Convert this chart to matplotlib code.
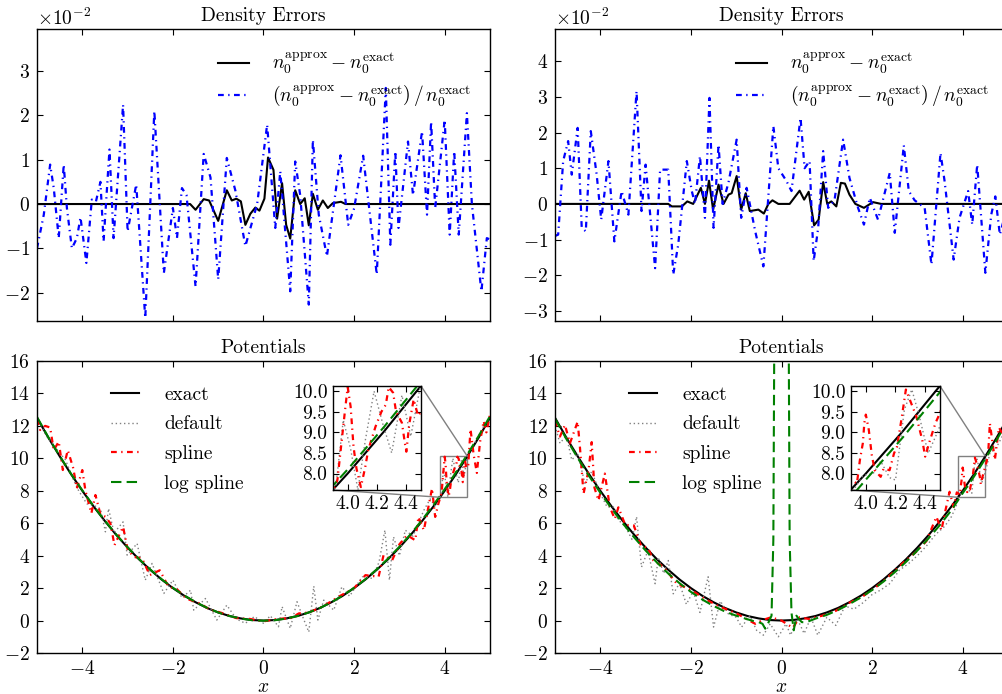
import numpy as np
import matplotlib.pyplot as plt
from matplotlib.ticker import MultipleLocator, FormatStrFormatter
from mpl_toolkits.axes_grid1.inset_locator import mark_inset

plt.rcParams['font.family'] = 'serif'
plt.rcParams['font.serif'] = ['cmr10']
plt.rcParams['mathtext.fontset'] = 'cm'
plt.rcParams['axes.formatter.use_mathtext'] = True
plt.rcParams['font.size'] = 14
plt.rcParams['xtick.direction'] = 'in'
plt.rcParams['ytick.direction'] = 'in'
plt.rcParams['xtick.top'] = True
plt.rcParams['ytick.right'] = True
plt.rcParams['xtick.major.size'] = 4.5
plt.rcParams['ytick.major.size'] = 4.5
plt.rcParams['axes.linewidth'] = 1.0
plt.rcParams['xtick.major.pad'] = 5
plt.rcParams['ytick.major.pad'] = 5

# density errors, values in units of 1e-2, (x, value) pairs
abs_err_l = [(-5.0, 0), (-1.62, 0), (-1.5, -0.13), (-1.32, 0.11), (-1.2, 0.08), (-1.0, -0.38),
             (-0.81, 0.31), (-0.7, 0.08), (-0.6, 0.12), (-0.5, 0.06), (-0.4, -0.47), (-0.29, -0.22),
             (-0.18, -0.08), (-0.09, -0.15), (0.02, 0.12), (0.10, 1.05), (0.22, 0.77), (0.30, -0.33),
             (0.41, 0.47), (0.50, -0.47), (0.59, -0.78), (0.70, 0.31), (0.81, 0.0), (0.91, 0.13),
             (1.0, -0.48), (1.09, 0.23), (1.2, -0.13), (1.31, 0.08), (1.42, -0.09), (1.53, 0.02),
             (1.71, 0.05), (1.81, 0.0), (5.0, 0)]
rel_err_l = [(-5.0, -1.0), (-4.85, -0.24), (-4.71, 0.89), (-4.63, 0.36), (-4.52, -0.77), (-4.41, 0.89),
             (-4.34, -0.09), (-4.23, -1.0), (-4.12, -0.77), (-4.04, -0.3), (-3.91, -1.33), (-3.79, 0.1),
             (-3.7, 0.05), (-3.6, 0.5), (-3.53, -0.84), (-3.4, 1.23), (-3.31, -0.77), (-3.1, 2.24),
             (-3.0, -0.62), (-2.81, 0.44), (-2.61, -2.57), (-2.41, 2.10), (-2.2, -1.56), (-2.0, -0.09),
             (-1.91, -0.77), (-1.8, 0.36), (-1.7, 0.2), (-1.5, -1.86), (-1.32, 1.13), (-1.17, 0.6),
             (-1.0, -1.7), (-0.81, 1.04), (-0.62, 0.3), (-0.40, -0.95), (-0.14, 0.0), (0.08, 1.79),
             (0.26, -0.54), (0.37, 0.74), (0.59, -1.97), (0.70, 0.96), (0.81, 0.2), (1.0, -2.27),
             (1.09, 1.45), (1.22, -0.24), (1.40, -1.18), (1.70, 1.1), (1.87, -0.47), (2.0, -0.1),
             (2.2, 1.09), (2.5, -1.59), (2.70, 2.62), (2.8, -0.92), (2.91, 1.19), (2.98, -0.54),
             (3.19, 1.41), (3.3, 0.2), (3.50, 1.64), (3.61, -0.24), (3.70, 1.86), (3.79, -0.09),
             (4.0, 1.90), (4.11, -0.69), (4.21, 1.19), (4.31, -0.69), (4.49, 2.05), (4.6, 0.0),
             (4.81, -1.97), (4.93, -0.77), (5.0, -0.8)]
abs_err_r = [(-5.0, 0), (-2.5, 0), (-2.42, -0.07), (-2.2, -0.07), (-2.08, 0.07), (-1.95, 0.0),
             (-1.78, 0.45), (-1.69, 0.0), (-1.6, 0.65), (-1.51, -0.16), (-1.39, 0.54), (-1.28, 0.0),
             (-1.17, 0.26), (-1.1, 0.3), (-0.99, 0.78), (-0.89, -0.16), (-0.79, 0.3), (-0.7, -0.2),
             (-0.51, -0.16), (-0.39, -0.27), (-0.29, 0.0), (-0.2, 0.1), (-0.07, 0.0), (0.18, 0.0),
             (0.4, 0.37), (0.5, 0.12), (0.6, 0.34), (0.72, -0.6), (0.82, -0.44), (0.92, 0.61),
             (1.01, 0.0), (1.1, 0.07), (1.21, -0.07), (1.31, 0.59), (1.4, 0.57), (1.5, 0.26),
             (1.63, 0.0), (1.82, -0.11), (2.02, 0.05), (2.2, 0.0), (5.0, 0)]
rel_err_r = [(-5.0, -0.9), (-4.93, -0.86), (-4.82, 1.2), (-4.71, 1.76), (-4.63, 0.82), (-4.5, 2.13),
             (-4.41, -0.67), (-4.32, -0.77), (-4.21, 2.04), (-4.08, 0.82), (-3.98, -0.44), (-3.82, 1.2),
             (-3.69, -1.05), (-3.53, 0.36), (-3.38, -0.3), (-3.2, 3.16), (-3.09, -0.2), (-3.0, 1.1),
             (-2.79, -1.8), (-2.68, 0.96), (-2.5, 0.96), (-2.39, -1.98), (-2.28, -1.14), (-2.09, 1.2),
             (-1.98, 0.36), (-1.91, 0.0), (-1.8, 1.34), (-1.69, -0.39), (-1.59, 2.97), (-1.5, -0.67),
             (-1.39, 1.66), (-1.30, 0.0), (-1.17, 0.6), (-0.99, 1.8), (-0.89, -0.39), (-0.77, 0.45),
             (-0.58, -0.77), (-0.40, -1.75), (-0.18, 2.18), (-0.07, 1.0), (0.11, 0.64), (0.22, 0.36),
             (0.42, 2.41), (0.51, 1.0), (0.62, 1.2), (0.71, -1.6), (0.81, -0.67), (0.92, 1.48),
             (1.03, -0.11), (1.17, 0.1), (1.36, 1.8), (1.5, 0.73), (1.69, -0.11), (1.82, -0.58),
             (1.95, 0.17), (2.13, -0.44), (2.39, 0.87), (2.5, -0.81), (2.7, 1.64), (2.81, 0.36),
             (2.94, 0.1), (3.16, -0.11), (3.31, -1.7), (3.51, 1.43), (3.6, 0.64), (3.8, -1.56),
             (3.93, -0.39), (4.12, 0.36), (4.21, -0.58), (4.32, 1.1), (4.5, -1.93), (4.63, -0.3),
             (4.72, 0.21), (4.82, -0.86), (5.0, 0.0)]

# potentials
exact_x = [-5.0, -4.75, -4.5, -4.25, -4.0, -3.75, -3.5, -3.25, -3.0, -2.75, -2.5, -2.25, -2.0, -1.75,
           -1.5, -1.25, -1.0, -0.75, -0.5, -0.25, 0.0, 0.25, 0.5, 0.75, 1.0, 1.25, 1.5, 1.75, 2.0,
           2.25, 2.5, 2.75, 3.0, 3.25, 3.5, 3.75, 4.0, 4.25, 4.5, 4.75, 5.0]
exact_y = [12.5, 11.28, 10.13, 9.03, 8.0, 7.03, 6.13, 5.28, 4.5, 3.78, 3.13, 2.53, 2.0, 1.53,
           1.13, 0.78, 0.5, 0.28, 0.13, 0.03, 0.0, 0.03, 0.13, 0.28, 0.5, 0.78, 1.13, 1.53, 2.0,
           2.53, 3.13, 3.78, 4.5, 5.28, 6.13, 7.03, 8.0, 9.03, 10.13, 11.28, 12.5]
log_spline_l_y = [12.55, 11.3, 10.15, 9.05, 8.03, 7.05, 6.15, 5.3, 4.52, 3.8, 3.15, 2.55, 2.02, 1.55,
                  1.14, 0.79, 0.5, 0.28, 0.12, 0.02, -0.01, 0.02, 0.12, 0.28, 0.5, 0.78, 1.13, 1.54,
                  2.02, 2.55, 3.16, 3.82, 4.55, 5.33, 6.2, 7.12, 8.1, 9.14, 10.24, 11.38, 12.6]
spline_l = [(-5.0, 12.4), (-4.93, 11.75), (-4.82, 12.0), (-4.71, 11.9), (-4.63, 10.5), (-4.52, 11.03),
            (-4.43, 9.28), (-4.32, 10.5), (-4.2, 9.39), (-4.12, 8.15), (-4.0, 9.28), (-3.93, 8.0),
            (-3.8, 6.61), (-3.71, 7.74), (-3.6, 6.55), (-3.49, 6.4), (-3.38, 5.99), (-3.29, 4.65),
            (-3.1, 5.78), (-3.0, 4.4), (-2.87, 3.93), (-2.68, 3.83), (-2.51, 2.8), (-2.29, 3.1),
            (-2.1, 2.1), (-1.9, 1.9), (-1.7, 1.35), (-1.4, 1.05), (-1.2, 0.7), (-0.9, 0.45),
            (-0.6, 0.15), (-0.3, 0.1), (0.0, -0.05), (0.3, 0.1), (0.6, 0.15), (0.78, 0.44),
            (1.0, 0.5), (1.3, 0.85), (1.66, 1.47), (2.0, 2.0), (2.25, 2.8), (2.54, 2.7),
            (2.65, 4.03), (2.84, 3.72), (3.0, 4.7), (3.17, 5.26), (3.35, 4.95), (3.42, 6.39),
            (3.54, 5.57), (3.72, 8.14), (3.79, 6.39), (3.86, 7.2), (3.93, 7.84), (3.95, 8.49),
            (3.98, 9.47), (4.0, 10.1), (4.02, 9.63), (4.04, 8.65), (4.06, 8.12), (4.09, 7.67),
            (4.12, 8.16), (4.14, 8.57), (4.19, 9.14), (4.23, 9.5), (4.26, 9.67), (4.28, 10.1),
            (4.31, 9.96), (4.33, 9.5), (4.37, 9.23), (4.39, 8.74), (4.4, 8.53), (4.42, 9.2),
            (4.45, 9.8), (4.48, 9.4), (4.52, 9.6), (4.57, 11.8), (4.64, 10.2), (4.71, 9.1),
            (4.78, 11.0), (4.86, 12.3), (4.92, 11.6), (5.0, 12.7)]
default_l = [(-5.0, 12.5), (-4.8, 11.4), (-4.65, 10.9), (-4.52, 10.4), (-4.37, 9.9), (-4.2, 8.7),
             (-4.08, 8.0), (-3.9, 7.2), (-3.75, 7.1), (-3.6, 6.9), (-3.49, 5.47), (-3.42, 6.9),
             (-3.3, 5.4), (-3.1, 6.08), (-3.01, 4.03), (-2.79, 4.75), (-2.61, 2.49), (-2.46, 3.52),
             (-2.2, 1.67), (-2.0, 2.49), (-1.8, 1.4), (-1.61, 1.87), (-1.54, 0.64), (-1.28, 1.36),
             (-1.03, 0.03), (-0.81, 0.95), (-0.6, 0.1), (-0.4, -0.17), (-0.2, 0.25), (0.0, -0.17),
             (0.15, 0.3), (0.33, -0.38), (0.41, 0.86), (0.59, -0.48), (0.74, 1.16), (0.87, 0.2),
             (1.0, -0.71), (1.11, 2.12), (1.2, 0.03), (1.33, 1.26), (1.55, 0.64), (1.73, 2.08),
             (1.9, 1.5), (2.18, 2.7), (2.4, 2.6), (2.55, 3.6), (2.68, 5.57), (2.78, 2.49),
             (2.87, 5.16), (3.0, 4.0), (3.13, 5.57), (3.3, 5.2), (3.54, 6.8), (3.68, 7.5),
             (3.8, 7.0), (3.92, 7.7), (3.97, 9.3), (4.02, 8.6), (4.07, 7.6), (4.12, 8.8),
             (4.18, 10.0), (4.24, 9.2), (4.3, 8.5), (4.37, 9.9), (4.43, 8.9), (4.5, 10.2),
             (4.6, 10.6), (4.75, 11.4), (4.9, 12.2), (5.0, 12.5)]
spline_r = [(-5.0, 12.3), (-4.89, 11.34), (-4.78, 12.06), (-4.67, 10.93), (-4.5, 12.26), (-4.45, 10.7),
            (-4.37, 7.82), (-4.26, 9.26), (-4.19, 11.0), (-4.13, 8.2), (-4.04, 7.4), (-3.9, 9.06),
            (-3.79, 7.0), (-3.68, 6.26), (-3.6, 6.98), (-3.45, 5.9), (-3.26, 5.86), (-3.1, 4.6),
            (-2.95, 4.5), (-2.83, 3.71), (-2.6, 3.3), (-2.31, 2.27), (-2.0, 1.9), (-1.7, 1.35),
            (-1.4, 0.9), (-1.0, 0.45), (-0.58, -0.2), (-0.4, 0.05), (-0.23, 0.2), (0.0, 0.0),
            (0.25, -0.45), (0.4, 0.2), (0.6, 0.1), (0.9, 0.3), (1.2, 0.6), (1.5, 1.1),
            (1.8, 1.5), (2.1, 2.1), (2.4, 2.8), (2.7, 3.6), (3.0, 4.3), (3.2, 4.9),
            (3.42, 6.4), (3.53, 5.57), (3.62, 6.8), (3.71, 7.94), (3.8, 7.0), (3.87, 7.9),
            (3.94, 7.76), (3.96, 8.33), (3.98, 8.74), (3.99, 9.23), (4.0, 9.43), (4.02, 9.06),
            (4.04, 8.45), (4.06, 8.08), (4.1, 7.92), (4.12, 8.12), (4.16, 8.08), (4.19, 8.49),
            (4.21, 8.65), (4.24, 9.31), (4.27, 10.04), (4.3, 9.76), (4.34, 9.39), (4.38, 8.82),
            (4.4, 8.41), (4.43, 8.78), (4.47, 9.23), (4.5, 9.47), (4.56, 10.2), (4.6, 12.16),
            (4.71, 9.9), (4.8, 11.9), (4.9, 11.4), (5.0, 12.4)]
default_r = [(-5.0, 12.0), (-4.89, 10.93), (-4.75, 11.4), (-4.63, 9.9), (-4.5, 10.3), (-4.34, 8.46),
             (-4.19, 9.18), (-4.0, 7.84), (-3.85, 7.0), (-3.71, 7.0), (-3.6, 6.2), (-3.45, 5.8),
             (-3.3, 5.0), (-3.2, 6.4), (-3.09, 3.3), (-2.95, 4.3), (-2.79, 2.27), (-2.72, 3.9),
             (-2.6, 2.9), (-2.5, 3.7), (-2.39, 1.65), (-2.25, 2.3), (-2.1, 1.0), (-1.95, 1.8),
             (-1.8, 0.5), (-1.62, 2.7), (-1.5, -0.4), (-1.35, 1.2), (-1.17, 0.4), (-1.0, 0.2),
             (-0.88, -0.4), (-0.7, 0.3), (-0.55, -0.6), (-0.4, -0.9), (-0.25, -0.2), (-0.07, -1.0),
             (0.1, -0.2), (0.2, -0.9), (0.35, 0.1), (0.5, -0.8), (0.65, 0.2), (0.8, -0.9),
             (1.0, 0.2), (1.2, -0.3), (1.4, 0.9), (1.6, 0.7), (1.8, 1.1), (2.0, 1.6),
             (2.2, 1.9), (2.4, 2.3), (2.6, 3.1), (2.8, 3.5), (3.0, 4.0), (3.2, 4.6),
             (3.4, 5.3), (3.6, 5.8), (3.75, 6.4), (3.85, 7.0), (3.9, 7.5), (3.98, 7.95),
             (4.05, 8.0), (4.1, 8.3), (4.16, 7.9), (4.2, 7.84), (4.26, 9.55), (4.31, 10.04),
             (4.36, 9.4), (4.42, 8.49), (4.49, 9.06), (4.6, 10.3), (4.75, 10.7), (4.9, 11.5),
             (5.0, 12.0)]
log_spline_r = [(-5.0, 12.45), (-4.75, 11.2), (-4.5, 10.03), (-4.25, 8.92), (-4.0, 7.88), (-3.75, 6.9),
                (-3.5, 5.98), (-3.25, 5.12), (-3.0, 4.32), (-2.75, 3.58), (-2.5, 2.9), (-2.25, 2.3),
                (-2.0, 1.77), (-1.75, 1.3), (-1.5, 0.9), (-1.25, 0.56), (-1.0, 0.3), (-0.75, 0.08),
                (-0.6, -0.05), (-0.5, -0.1), (-0.42, -0.2), (-0.36, -0.5), (-0.3, -0.2), (-0.22, 0.3),
                (-0.18, 5.0), (-0.16, 17.0), (0.16, 17.0), (0.18, 5.0), (0.22, 0.5), (0.27, -0.6),
                (0.33, 0.3), (0.38, 0.1), (0.45, -0.1), (0.55, -0.1), (0.75, 0.12), (1.0, 0.35),
                (1.25, 0.65), (1.5, 1.02), (1.75, 1.42), (2.0, 1.88), (2.25, 2.4), (2.5, 2.98),
                (2.75, 3.62), (3.0, 4.32), (3.25, 5.08), (3.5, 5.9), (3.75, 6.8), (4.0, 7.85),
                (4.25, 8.88), (4.5, 9.98), (4.75, 11.14), (5.0, 12.36)]

DASHDOT = (0, (2.6, 2.0, 0.6, 2.0))


def density_panel(ax, abs_err, rel_err, ylim):
    a = np.array(abs_err)
    r = np.array(rel_err)
    ax.plot(a[:, 0], a[:, 1] * 1e-2, color='k', lw=1.5,
            label=r'$n_0^{\mathrm{approx}} - n_0^{\mathrm{exact}}$')
    ax.plot(r[:, 0], r[:, 1] * 1e-2, color='b', lw=1.6, ls=DASHDOT,
            label=r'$\left(n_0^{\mathrm{approx}} - n_0^{\mathrm{exact}}\right)\,/\,n_0^{\mathrm{exact}}$')
    ax.set_xlim(-5, 5)
    ax.set_ylim(*ylim)
    ax.yaxis.set_major_locator(MultipleLocator(0.01))
    ax.ticklabel_format(axis='y', style='sci', scilimits=(0, 0), useMathText=True)
    ax.tick_params(labelbottom=False)
    ax.set_title('Density Errors', fontsize=14)
    ax.legend(loc='upper right', bbox_to_anchor=(0.998, 0.985), frameon=False, handlelength=1.6,
              handletextpad=1.2, labelspacing=0.35, fontsize=14)


def potential_lines(ax, spline, default, log_x, log_y):
    s = np.array(spline)
    d = np.array(default)
    ax.plot(exact_x, exact_y, color='k', lw=1.5, label='exact')
    ax.plot(d[:, 0], d[:, 1], color='0.5', lw=1, ls=(0, (1, 2)), label='default')
    ax.plot(s[:, 0], s[:, 1], color='r', lw=1.6, ls=DASHDOT, label='spline')
    ax.plot(log_x, log_y, color='g', lw=1.5, ls=(0, (5, 2.5)), label='log spline')


def potential_panel(ax, spline, default, log_x, log_y, inset_rect):
    potential_lines(ax, spline, default, log_x, log_y)
    ax.set_xlim(-5, 5)
    ax.set_ylim(-2, 16)
    ax.yaxis.set_major_locator(MultipleLocator(2))
    ax.set_xlabel('$x$', labelpad=0)
    ax.set_title('Potentials', fontsize=14)
    ax.legend(loc='upper left', bbox_to_anchor=(0.124, 0.975), frameon=False, handlelength=1.45,
              handletextpad=1.3, labelspacing=0.6, fontsize=14)
    axins = fig.add_axes(inset_rect)
    potential_lines(axins, spline, default, log_x, log_y)
    axins.set_xlim(3.9, 4.5)
    axins.set_ylim(7.6, 10.125)
    axins.set_xticks([4.0, 4.2, 4.4])
    axins.set_yticks([8.0, 8.5, 9.0, 9.5, 10.0])
    axins.xaxis.set_major_formatter(FormatStrFormatter('%.1f'))
    axins.yaxis.set_major_formatter(FormatStrFormatter('%.1f'))
    axins.tick_params(labelsize=14, pad=4)
    mark_inset(ax, axins, loc1=1, loc2=3, fc='none', ec='0.5', lw=1)


fig = plt.figure(figsize=(10.03, 6.94), dpi=100)
W, H = 1003.0, 694.0
ax_tl = fig.add_axes([37 / W, 1 - 321 / H, 453 / W, 292 / H])
ax_tr = fig.add_axes([555 / W, 1 - 321 / H, 453 / W, 292 / H])
ax_bl = fig.add_axes([37 / W, 1 - 653 / H, 453 / W, 292 / H])
ax_br = fig.add_axes([555 / W, 1 - 653 / H, 453 / W, 292 / H])

density_panel(ax_tl, abs_err_l, rel_err_l, (-0.0264, 0.0395))
density_panel(ax_tr, abs_err_r, rel_err_r, (-0.0328, 0.049))

lr = np.array(log_spline_r)
potential_panel(ax_bl, spline_l, default_l, exact_x, log_spline_l_y,
                [333 / W, 1 - 490 / H, 88 / W, 104 / H])
potential_panel(ax_br, spline_r, default_r, lr[:, 0], lr[:, 1],
                [851 / W, 1 - 490 / H, 89 / W, 104 / H])

fig.savefig('out.png', dpi=100)
